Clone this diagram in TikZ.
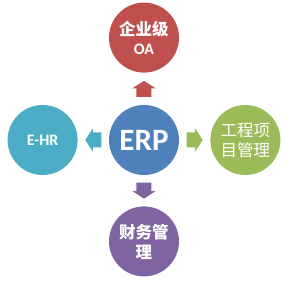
\documentclass[tikz,border=0pt]{standalone}
\usepackage{fontspec}
\setmainfont{Carlito}
\newfontfamily\cjk{Noto Sans CJK SC}
\usetikzlibrary{positioning, calc}
\definecolor{erpblue}{HTML}{4F81BD}
\definecolor{oared}{HTML}{C0504D}
\definecolor{hrteal}{HTML}{4BACC6}
\definecolor{pmgreen}{HTML}{9BBB59}
\definecolor{fipurple}{HTML}{8064A2}

\begin{document}
\begin{tikzpicture}[
    x=1pt, y=1pt,
    every node/.style={text=white, align=center, inner sep=0pt},
    hub/.style={circle, minimum size=70pt, fill=#1},
    cjktext/.style={font=\cjk\bfseries\fontsize{16.5}{20}\selectfont},
    node distance=31pt,
    blockarrow/.pic={\path[pic actions] (-8,-7.5) -- (0.5,-7.5) -- (0.5,-11.5) -- (8,0)
        -- (0.5,11.5) -- (0.5,7.5) -- (-8,7.5) -- cycle;}
]
\useasboundingbox (-144,-149) rectangle (148,140);
% centre and satellites
\node[hub=erpblue, font=\bfseries\fontsize{31}{31}\selectfont] (erp) at (0,0) {ERP};
\node[hub=oared, above=32pt of erp, cjktext] (oa) {企业级\\[-1pt]{\normalfont\bfseries\fontsize{16}{16}\selectfont OA}};
\node[hub=hrteal, left=of erp, font=\bfseries\fontsize{16}{16}\selectfont] (ehr) {E-HR};
\node[hub=pmgreen, right=of erp, font=\cjk\fontsize{16.5}{20}\selectfont] (proj) {工程项\\目管理};
\node[hub=fipurple, below=of erp, cjktext] (fin) {财务管\\理};
% block arrows
\pic[rotate=90, fill=oared] (toOA) at ($(erp.north)!0.5!(oa.south)$) {blockarrow};
\pic[rotate=180, fill=hrteal] (toHR) at ($(erp.west)!0.5!(ehr.east)$) {blockarrow};
\pic[fill=pmgreen] (toProj) at ($(erp.east)!0.5!(proj.west)$) {blockarrow};
\pic[rotate=-90, fill=fipurple] (toFin) at ($(erp.south)!0.5!(fin.north)$) {blockarrow};
\end{tikzpicture}
\end{document}
